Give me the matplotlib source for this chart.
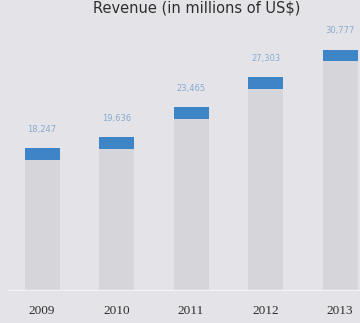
import numpy as np
import matplotlib
matplotlib.use("Agg")
import matplotlib.pyplot as plt

# revenue per year, millions
years = ["2009", "2010", "2011", "2012", "2013"]
revenue = [18247, 19636, 23465, 27303, 30777]
labels = ["18,247", "19,636", "23,465", "27,303", "30,777"]

bg = "#e4e4e8"
fig = plt.figure(figsize=(3.6, 3.23), dpi=100, facecolor=bg)
ax = fig.add_axes([0, 0.099, 1, 0.901])
ax.set_facecolor(bg)

x = np.arange(len(years))
cap = 1500  # thickness of the blue top marker

ax.bar(x, revenue, width=0.47, color="#d6d6da", zorder=2)
ax.bar(x, cap, bottom=np.array(revenue) - cap, width=0.47, color="#3d85c6", zorder=3)
for xi, v, t in zip(x, revenue, labels):
    ax.text(xi, v + 2400, t, ha="center", va="center", fontsize=6,
            color="#86aad2", zorder=4)

ax.axhline(0, xmin=10 / 360, xmax=1, color="#f2f2f4", lw=2.5, zorder=4)
ax.axhline(-350, xmin=10 / 360, xmax=1, color="#cdcdd1", lw=1, zorder=4)

ax.set_xlim(-0.564, 4.268)
ax.set_ylim(0, 37100)
for s in ax.spines.values():
    s.set_visible(False)
ax.set_yticks([])
ax.set_xticks(x)
ax.set_xticklabels(years, family="Liberation Serif", fontsize=9.5, color="#2e2e2e")
ax.tick_params(axis="x", length=0, pad=10)

fig.text(0.545, 0.998, "Revenue (in millions of US$)", ha="center", va="top",
         fontsize=10.5, color="#2e2e2e")

fig.savefig("out.png", dpi=100, facecolor=bg)
